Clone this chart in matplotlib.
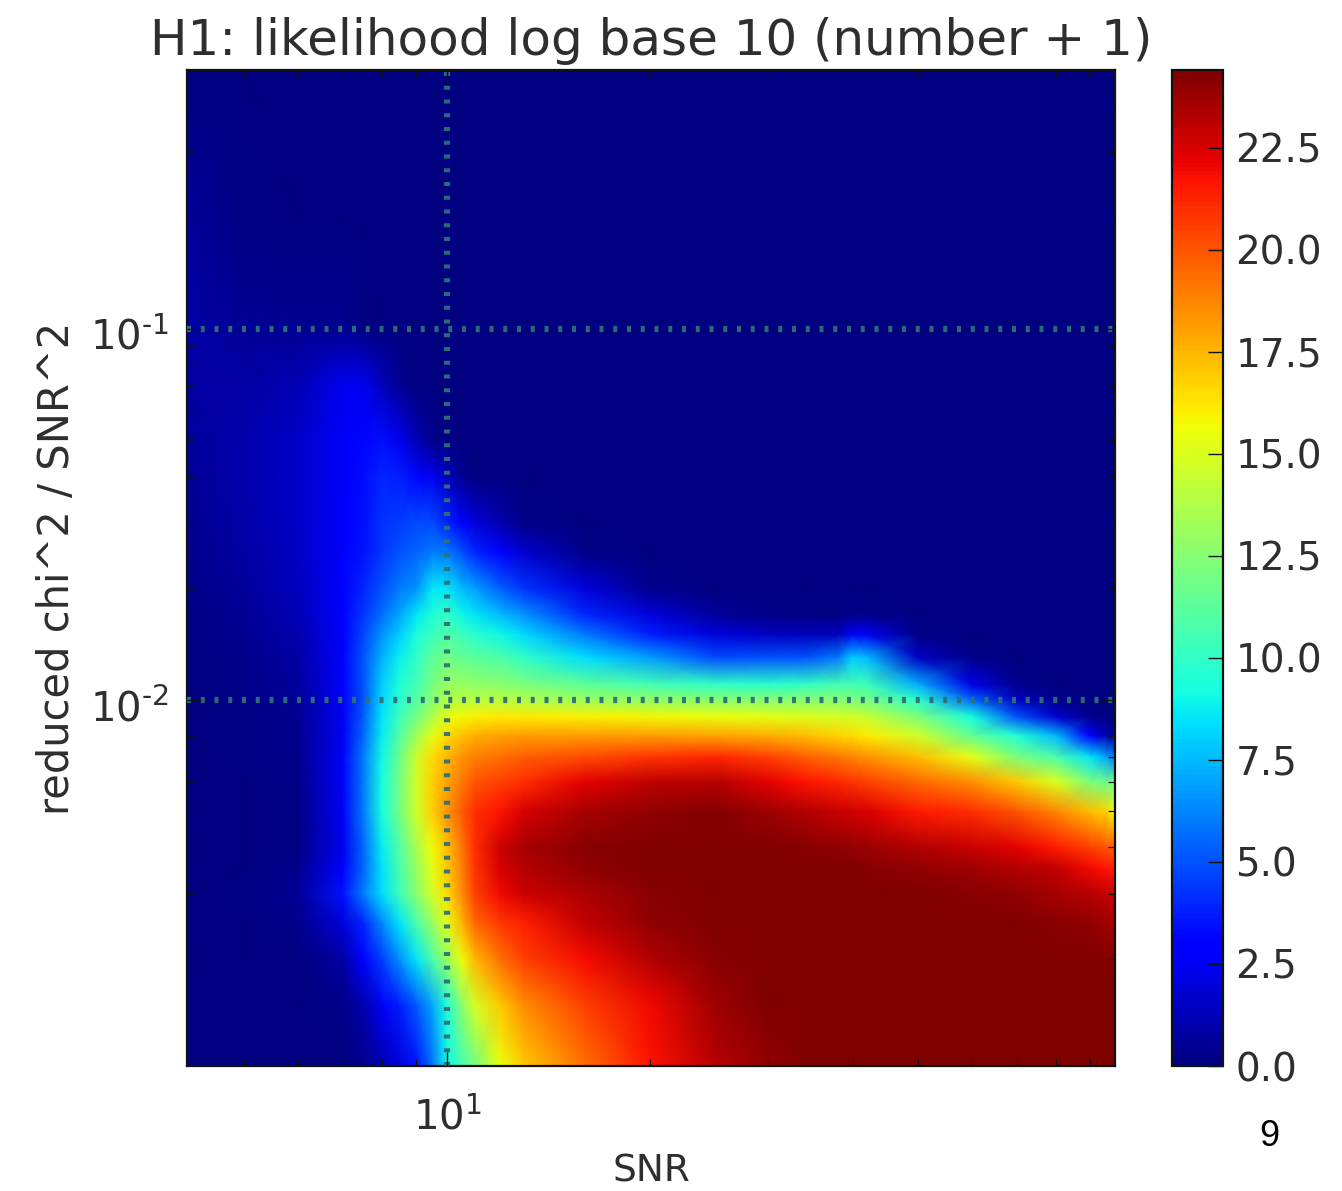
import numpy as np
import matplotlib
matplotlib.use("Agg")
import matplotlib.pyplot as plt
from matplotlib.transforms import ScaledTranslation

snr_values = [4.11, 5, 6, 7, 7.5, 8, 8.5, 9, 9.5, 10, 10.5, 11, 12, 13, 16, 20, 25, 30, 34, 38, 40, 42, 50, 60, 70, 80, 90, 95, 98]
chi_values = [0.5, 0.2, 0.1, 0.07, 0.05, 0.04, 0.03, 0.025, 0.02, 0.017, 0.015, 0.013, 0.011, 0.01, 0.009, 0.008,
              0.007, 0.006, 0.005, 0.004, 0.0035, 0.003, 0.0025, 0.002, 0.0015, 0.00103]
likelihood = [
 [0,0,0,0,0,0,0,0,0,0,0,0,0,0,0,0,0,0,0,0,0,0,0,0,0,0,0,0,0],
 [.6,.1,0,0,0,0,0,0,0,0,0,0,0,0,0,0,0,0,0,0,0,0,0,0,0,0,0,0,0],
 [.9,.5,.4,.4,.1,0,0,0,0,0,0,0,0,0,0,0,0,0,0,0,0,0,0,0,0,0,0,0,0],
 [.8,.8,1.2,2.4,2.4,1.4,.4,0,0,0,0,0,0,0,0,0,0,0,0,0,0,0,0,0,0,0,0,0,0],
 [.6,1,1.6,2.6,3.2,3.4,2.4,1.2,.3,0,0,0,0,0,0,0,0,0,0,0,0,0,0,0,0,0,0,0,0],
 [.5,1,1.6,2.6,3.3,4,3.8,3.2,2.4,1.3,.4,0,0,0,0,0,0,0,0,0,0,0,0,0,0,0,0,0,0],
 [.4,.9,1.6,2.7,3.4,4.2,4.5,4.8,4.8,4,3,2,1,.2,0,0,0,0,0,0,0,0,0,0,0,0,0,0,0],
 [.3,.8,1.5,2.8,3.5,4.3,5,5.5,6,6,5,4,2.7,1.7,.2,0,0,0,0,0,0,0,0,0,0,0,0,0,0],
 [.2,.6,1.4,2.9,4,5,6,6.5,8.5,8.5,7.5,6.8,5.3,4.2,2,.3,0,0,0,0,0,0,0,0,0,0,0,0,0],
 [.1,.5,1.2,2.9,4.3,5.7,7,8.5,9.5,10,9,8.5,7.5,6.5,4,2,.6,.2,.1,.1,.2,.2,0,0,0,0,0,0,0],
 [.1,.4,1,2.9,4.7,6.5,8,9.3,10.2,10.8,10.3,9.8,9,8.2,6,3.8,2,1.5,1.3,1.3,2.5,2.4,.2,0,0,0,0,0,0],
 [0,.3,.8,2.8,5,7.3,8.8,10,11.3,12,11.5,11.2,10.8,10,8.3,6.8,4.8,5,5,6,8,7.5,1.5,.2,0,0,0,0,0],
 [0,.2,.6,2.7,5,8,9.5,10.5,12,13,13,12.8,12.6,12.2,11.3,10.5,10,9.8,10,10.5,10.5,10.3,7.2,2.2,.3,0,0,0,0],
 [0,.2,.5,2.6,5,8.2,9.8,11,12.5,13.8,14,14,14,13.8,13.2,12.8,12.5,12.5,12.5,12.5,12.2,12,9.8,5.5,1.5,.3,0,0,0],
 [0,.1,.4,2.5,5.2,8.5,10.3,12,13.7,15.3,15.8,16,16.2,16.2,16,15.8,15.5,15.3,15,14.8,14.7,14.3,12.2,9.2,5,1.8,.3,.1,0],
 [0,.1,.3,2.5,5.5,8.7,11,13.3,15.3,16.5,17.2,17.7,18,18.2,18.2,18.2,18,17.7,17.3,16.7,16.5,16.2,14.6,11.5,9.5,7.5,2.7,1.2,.5],
 [0,.1,.3,2.6,6,9,11.8,14.5,16.5,17.5,18.3,18.9,19.3,19.8,20.3,20.8,21.2,20.5,19.8,19.1,18.8,18.4,17.3,15.3,12.2,10.8,8.5,7,6],
 [0,.05,.2,2.6,6,9.2,12,14.7,16.8,18,19,20,20.5,21,22.3,23,23.2,22.3,21.7,21.2,20.8,20.5,19.5,18.5,17,15,12.2,11.8,11.5],
 [0,0,.1,2.5,6,9.2,12,14.6,16.8,18.3,19.8,21,21.7,22.5,23.5,24,24.3,23.7,23.3,22.8,22.6,22.4,21.5,21,20,18.7,17.3,16.7,15.5],
 [0,0,.1,2.3,5.5,8.7,11,13.5,15.7,17.3,19,21,22.7,23.5,24.2,24.4,24.4,24.4,24.2,24,23.9,23.8,23.3,22.8,22.3,21.5,20.5,20.1,19.8],
 [0,0,.3,2.8,5.5,8.4,10.7,13,15.3,17,18.8,20.8,22.5,23.2,24,24.4,24.4,24.4,24.4,24.4,24.4,24.2,24,23.7,23.3,23,22,21.7,21.5],
 [0,.1,.5,3.5,6,8.3,10.3,12.5,14.7,16.5,18.5,20.5,22,22.7,23.4,24.2,24.4,24.4,24.4,24.4,24.4,24.4,24.4,24.2,24,23.5,23.2,22.9,22.7],
 [0,0,.2,2,4,6.3,8.5,10.7,13,15.3,17.5,19.5,20.7,21.4,22.9,24,24.4,24.4,24.4,24.4,24.4,24.4,24.4,24.4,24.4,24.2,24,23.7,23.5],
 [0,0,0,.8,2.7,4.5,6.5,8.5,10.8,13,15.5,17.5,19.3,20.5,21.9,23.3,24.2,24.4,24.4,24.4,24.4,24.4,24.4,24.4,24.4,24.4,24.4,24.3,24.2],
 [0,0,0,.2,1,2.5,3.8,5.2,7,9.5,12.5,14.8,17,18.5,20.5,22,23.7,24.4,24.4,24.4,24.4,24.4,24.4,24.4,24.4,24.4,24.4,24.4,24.4],
 [0,0,0,0,.3,1,2,3.5,5.8,9,10.5,12,15.5,17,19.3,21.7,23.2,24,24.4,24.4,24.4,24.4,24.4,24.4,24.4,24.4,24.4,24.4,24.4],
]
cbar_ticks = [0, 2.5, 5, 7.5, 10, 12.5, 15, 17.5, 20, 22.5]
title = "H1: likelihood log base 10 (number + 1)"
x_label = "SNR"
y_label = "reduced chi^2 / SNR^2"
page_number = "9"

W, H = 1342, 1191
plt.rcParams["mathtext.default"] = "regular"
plt.rcParams["font.family"] = "DejaVu Sans"
text_color = "#2e2e2e"
fig = plt.figure(figsize=(W / 100, H / 100), dpi=100)

def box(l, t, r, b):
    return [l / W, 1 - b / H, (r - l) / W, (b - t) / H]

ax = fig.add_axes(box(187, 70, 1115, 1066))
X, Y = np.meshgrid(snr_values, chi_values)
mesh = ax.pcolormesh(X, Y, np.array(likelihood), shading="gouraud", cmap="jet", vmin=0, vmax=24.4, rasterized=True)
ax.set_xscale("log")
ax.set_yscale("log")
ax.set_xlim(4.11, 98)
ax.set_ylim(0.00103, 0.498)
ax.set_xticks([10])
ax.set_xticklabels([r"$10^{1}$"])
ax.set_yticks([0.1, 0.01])
ax.set_yticklabels([r"$10^{\text{-}1}$", r"$10^{\text{-}2}$"])
ax.set_xticks([5, 6, 7, 8, 9, 20, 30, 40, 50, 60, 70, 80, 90], minor=True)
ax.set_xticklabels([], minor=True)
ax.set_yticks([m * d for d in (0.001, 0.01, 0.1) for m in range(2, 10) if m * d < 0.498], minor=True)
ax.set_yticklabels([], minor=True)
ax.tick_params(which="major", direction="in", length=10, width=1.0, top=True, right=True,
               labelsize=29, labelcolor=text_color, color="#111111")
ax.tick_params(axis="x", which="major", pad=23)
ax.tick_params(axis="y", which="major", pad=13)
ax.tick_params(which="minor", direction="in", length=5, width=0.9, top=True, right=True, color="#111111")
for lab in ax.get_yticklabels():
    lab.set_transform(lab.get_transform() + ScaledTranslation(0, -4 / 72, fig.dpi_scale_trans))
ax.grid(True, which="major", color="#2f7078", linewidth=4.5, linestyle=(0, (0.64, 1.56)),
        dash_capstyle="butt", alpha=0.95)
ax.set_axisbelow(False)
for s in ax.spines.values():
    s.set_linewidth(1.6)
    s.set_color("#111111")
ax.set_title(title, fontsize=36, color=text_color, y=1 + 29 / 996, va="center", pad=0)
ax.set_xlabel(x_label, fontsize=27, color=text_color, va="center")
ax.xaxis.set_label_coords(0.5, -(1171 - 1066) / 996)
ax.set_ylabel(y_label, fontsize=30, color=text_color, va="center")
ax.yaxis.set_label_coords((57 - 187) / 928, (1066 - 568) / 996)

cax = fig.add_axes(box(1172, 70, 1223, 1066))
cb = fig.colorbar(mesh, cax=cax, ticks=cbar_ticks)
cb.ax.tick_params(direction="in", length=11, width=1.0, labelsize=28, labelcolor=text_color, pad=9, color="#111111")
cb.ax.set_yticklabels(["%.1f" % t for t in cbar_ticks])
cb.outline.set_linewidth(1.6)
cb.outline.set_edgecolor("#111111")

fig.text(1269 / W, 1 - 1137 / H, page_number, family="Liberation Sans", fontsize=26, color="black", ha="center", va="center")
fig.savefig("out.png", dpi=100, facecolor="white")
